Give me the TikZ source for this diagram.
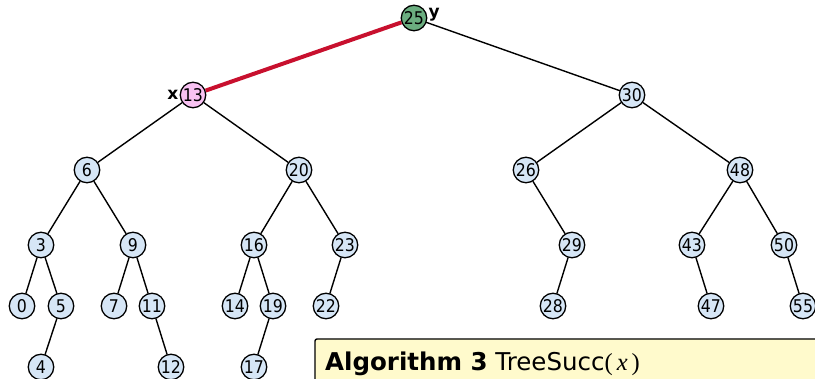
\documentclass[tikz,border=0pt]{standalone}
\usepackage{fontspec}
\setmainfont{DejaVu Sans}
\newfontfamily\keyfont{DejaVu Sans Condensed}
\newfontfamily\varfont{Liberation Serif}
\usetikzlibrary{positioning}
\definecolor{keyblue}{HTML}{D6E6F6}
\definecolor{rootgreen}{HTML}{6BAE80}
\definecolor{xpink}{HTML}{F8C2F2}
\definecolor{pathred}{HTML}{C8102E}
\definecolor{algyellow}{HTML}{FFFACC}
\begin{document}
\begin{tikzpicture}[x=1pt,y=-1pt, line join=round, line cap=round]
	\tikzset{key/.style={circle,draw,line width=1.3pt,fill=keyblue,inner sep=0pt,minimum size=25.5pt,font=\keyfont\fontsize{17.5}{17.5}\selectfont}}
	\tikzset{edge/.style={line width=1.4pt}}
	\tikzset{ptr/.style={inner sep=1pt,font=\fontsize{17}{17}\selectfont\bfseries}}
	\useasboundingbox (0,0) rectangle (815,379);
	% Knoten
	\foreach \k/\x/\y in {30/632/95, 6/87/170, 20/299/170, 26/526/170, 48/740/170,
		3/41/245, 9/133/245, 16/254/245, 23/345/245, 29/572/245, 43/692/245, 50/784/245,
		0/22/306, 5/61/306, 7/114/306, 11/152/306, 14/235/306, 19/273/306, 22/326/306,
		28/553/306, 47/711/306, 55/803/306, 4/41/367, 12/171/367, 17/254/367}
		\node[key] (n\k) at (\x,\y) {\k};
	\node[key,fill=rootgreen] (n25) at (414,18) {25};
	\node[key,fill=xpink] (n13) at (193,95) {13};
	\node[ptr,left=0pt of n13] (lx) {x};
	\node[ptr,right=0pt of n25,yshift=3pt] (ly) {y};
	% Kanten
	\foreach \a/\b in {25/30, 13/6, 13/20, 30/26, 30/48, 6/3, 6/9, 20/16, 20/23,
		26/29, 48/43, 48/50, 3/0, 3/5, 9/7, 9/11, 16/14, 16/19, 23/22, 29/28,
		43/47, 50/55, 5/4, 11/12, 19/17}
		\draw[edge] (n\a) -- (n\b);
	\draw[line width=4pt,pathred,line cap=butt] (n25) -- (n13);
	% Algorithmus
	\begin{scope}
		\clip (0,0) rectangle (815,379);
		\draw[line width=1.4pt,fill=algyellow,rounded corners=2pt] (315,339) rectangle (840,400);
	\end{scope}
	\node[anchor=base west,inner sep=0pt,font=\fontsize{24.5}{26}\selectfont] (alg) at (325,371)
		{\textbf{Algorithm 3} TreeSucc{\varfont(\,\textit{x}\,)}};
\end{tikzpicture}
\end{document}
